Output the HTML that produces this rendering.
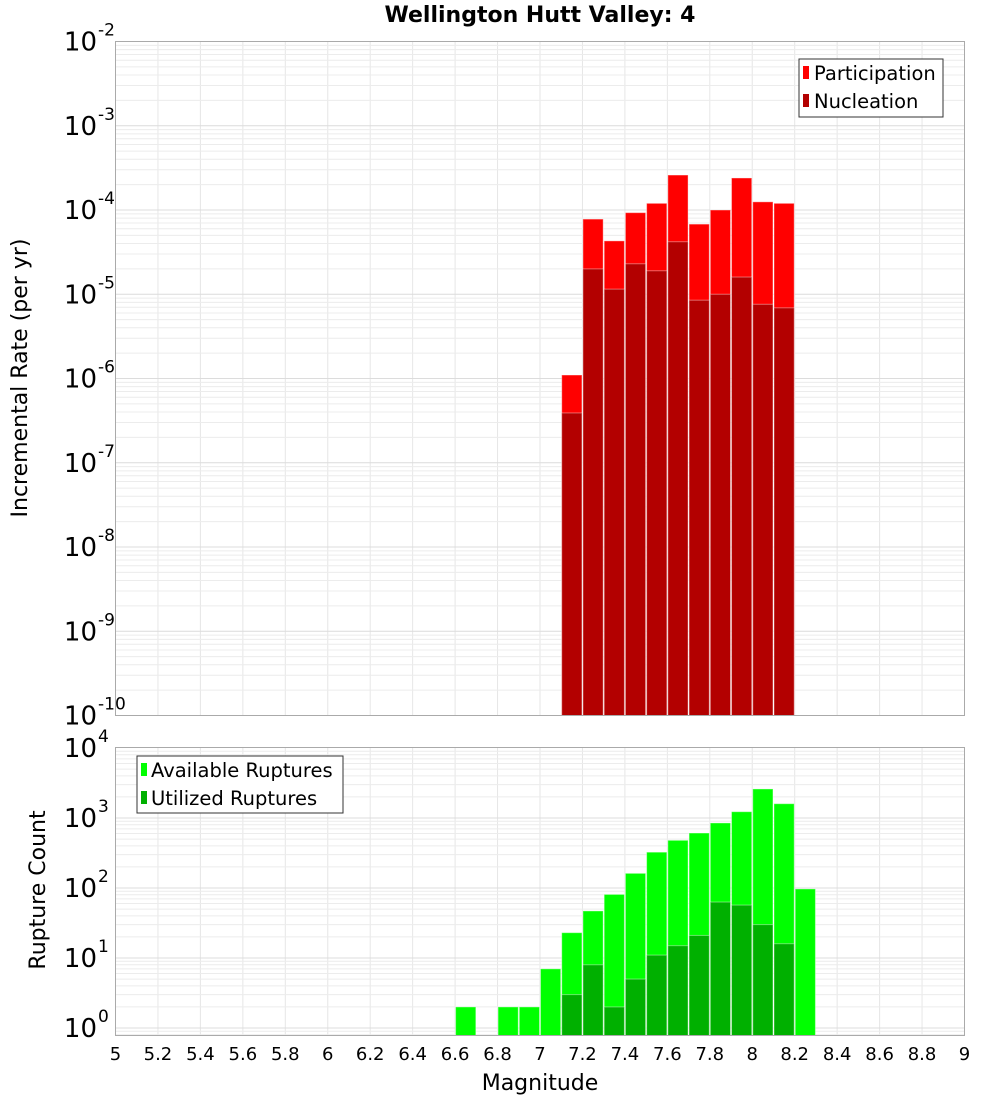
<!DOCTYPE html>
<html><head><meta charset="utf-8"><style>
body{margin:0;background:#fff;}
svg{display:block;font-family:"Liberation Sans","DejaVu Sans",sans-serif;}
</style></head><body>
<svg id="chart" width="1000" height="1100" xmlns="http://www.w3.org/2000/svg">
<rect width="1000" height="1100" fill="#fff"/>
<text x="540" y="22" text-anchor="middle" font-size="22" font-weight="bold" font-family="DejaVu Sans, sans-serif">Wellington Hutt Valley: 4</text>
<g id="topPlot"></g><g id="botPlot"></g>
<text transform="translate(27,378) rotate(-90)" text-anchor="middle" font-size="22" font-family="DejaVu Sans, sans-serif">Incremental Rate (per yr)</text>
<text transform="translate(45,890) rotate(-90)" text-anchor="middle" font-size="22" font-family="DejaVu Sans, sans-serif">Rupture Count</text>
<text x="540" y="1090" text-anchor="middle" font-size="22" font-family="DejaVu Sans, sans-serif">Magnitude</text>
<g>
<rect x="799" y="59" width="144" height="58" fill="#fff" stroke="#333"/>
<rect x="803" y="66" width="6" height="13" fill="#ff0000"/>
<text x="814" y="80" font-size="19.5" font-family="DejaVu Sans, sans-serif">Participation</text>
<rect x="803" y="94" width="6" height="13" fill="#b30000"/>
<text x="814" y="108" font-size="19.5" font-family="DejaVu Sans, sans-serif">Nucleation</text>
</g>
<g>
<rect x="137" y="756" width="206" height="57" fill="#fff" stroke="#333"/>
<rect x="141" y="763" width="6" height="13" fill="#00ff00"/>
<text x="151" y="777" font-size="19.5" font-family="DejaVu Sans, sans-serif">Available Ruptures</text>
<rect x="141" y="791" width="6" height="13" fill="#00b000"/>
<text x="151" y="805" font-size="19.5" font-family="DejaVu Sans, sans-serif">Utilized Ruptures</text>
</g>
</svg>
<script>
const bins=[7.1,7.2,7.3,7.4,7.5,7.6,7.7,7.8,7.9,8.0,8.1];
const participation=[1.1e-6,7.8e-5,4.3e-5,9.3e-5,1.2e-4,2.6e-4,6.8e-5,1.0e-4,2.4e-4,1.25e-4,1.2e-4];
const nucleation=[3.9e-7,2.0e-5,1.15e-5,2.3e-5,1.9e-5,4.2e-5,8.5e-6,1.0e-5,1.6e-5,7.6e-6,6.9e-6];
const countBins=[6.6,6.8,6.9,7.0,7.1,7.2,7.3,7.4,7.5,7.6,7.7,7.8,7.9,8.0,8.1,8.2];
const available=[2,2,2,7,23,47,81,162,325,480,610,850,1230,2600,1600,97];
const utilized=[0,0,0,0,3,8,2,5,11,15,21,63,57,30,16,0];
const xTicks=[5,5.2,5.4,5.6,5.8,6,6.2,6.4,6.6,6.8,7,7.2,7.4,7.6,7.8,8,8.2,8.4,8.6,8.8,9];
const topDecades=[-2,-3,-4,-5,-6,-7,-8,-9,-10];
const botDecades=[0,1,2,3,4];

const NS='http://www.w3.org/2000/svg';
const L=115.5,R=964.5;
const xs=m=>L+(m-5)/4*(R-L);
const T1=41.5,B1=715.5;
const yTop=v=>T1+(-2-Math.log10(v))/8*(B1-T1);
const T2=747.5,B2=1035.5;
const yB0=1028,decB=70;
const yBot=v=>yB0-Math.log10(v)*decB;
function el(parent,tag,attrs){const e=document.createElementNS(NS,tag);for(const k in attrs)e.setAttribute(k,attrs[k]);parent.appendChild(e);return e;}
const gTop=document.getElementById('topPlot'),gBot=document.getElementById('botPlot');

function grid(g,T,B,ymap,decs){
  for(const m of xTicks){const l=el(g,'line',{x1:xs(m),x2:xs(m),y1:T,y2:B,stroke:'#e6e6e6'});
    
    }
  for(const d of decs){for(let k=1;k<10;k++){const yy=ymap(k*Math.pow(10,d));if(yy<T||yy>B)continue;
    const l=el(g,'line',{x1:L,x2:R,y1:yy,y2:yy,stroke:k==1?'#dcdcdc':'#ececec'});
    
    }}
}
grid(gTop,T1,B1,yTop,[-3,-4,-5,-6,-7,-8,-9,-10]);
grid(gBot,T2,B2,yBot,[-1,0,1,2,3]);

function bar(g,m,v,base,ymap,fill,name){
  if(v<=0)return;
  const y0=ymap(v);
  const r=el(g,'rect',{x:xs(m)+0.5,y:y0,width:xs(m+0.1)-xs(m)-1,height:base-y0,fill:fill,stroke:'#fff','stroke-opacity':0.4,'stroke-width':1});
  
  
}
bins.forEach((m,i)=>bar(gTop,m,participation[i],B1,yTop,'#ff0000','participation-bar'));
bins.forEach((m,i)=>bar(gTop,m,nucleation[i],B1,yTop,'#b30000','nucleation-bar'));
countBins.forEach((m,i)=>bar(gBot,m,available[i],B2,yBot,'#00ff00','available-bar'));
countBins.forEach((m,i)=>bar(gBot,m,utilized[i],B2,yBot,'#00b000','utilized-bar'));

el(gTop,'rect',{x:L,y:T1,width:R-L,height:B1-T1,fill:'none',stroke:'#aaa'});
el(gBot,'rect',{x:L,y:T2,width:R-L,height:B2-T2,fill:'none',stroke:'#aaa'});

function ylabel(g,yy,exp){
  const t=el(g,'text',{x:97,y:yy+9,'text-anchor':'end','font-size':26,'font-family':'DejaVu Sans, sans-serif'});
  t.textContent='10';
  
  
  const s=el(g,'text',{x:98,y:yy-6,'text-anchor':'start','font-size':17,'font-family':'DejaVu Sans, sans-serif'});
  s.textContent=String(exp);
  
  
}
topDecades.forEach(d=>ylabel(gTop,yTop(Math.pow(10,d)),d));
botDecades.forEach(d=>ylabel(gBot,yBot(Math.pow(10,d)),d));
xTicks.forEach(m=>{const t=el(gBot,'text',{x:xs(m),y:1060,'text-anchor':'middle','font-size':18,'font-family':'DejaVu Sans, sans-serif'});
  t.textContent=String(Math.round(m*10)/10);
  
  });
</script>
</body></html>
